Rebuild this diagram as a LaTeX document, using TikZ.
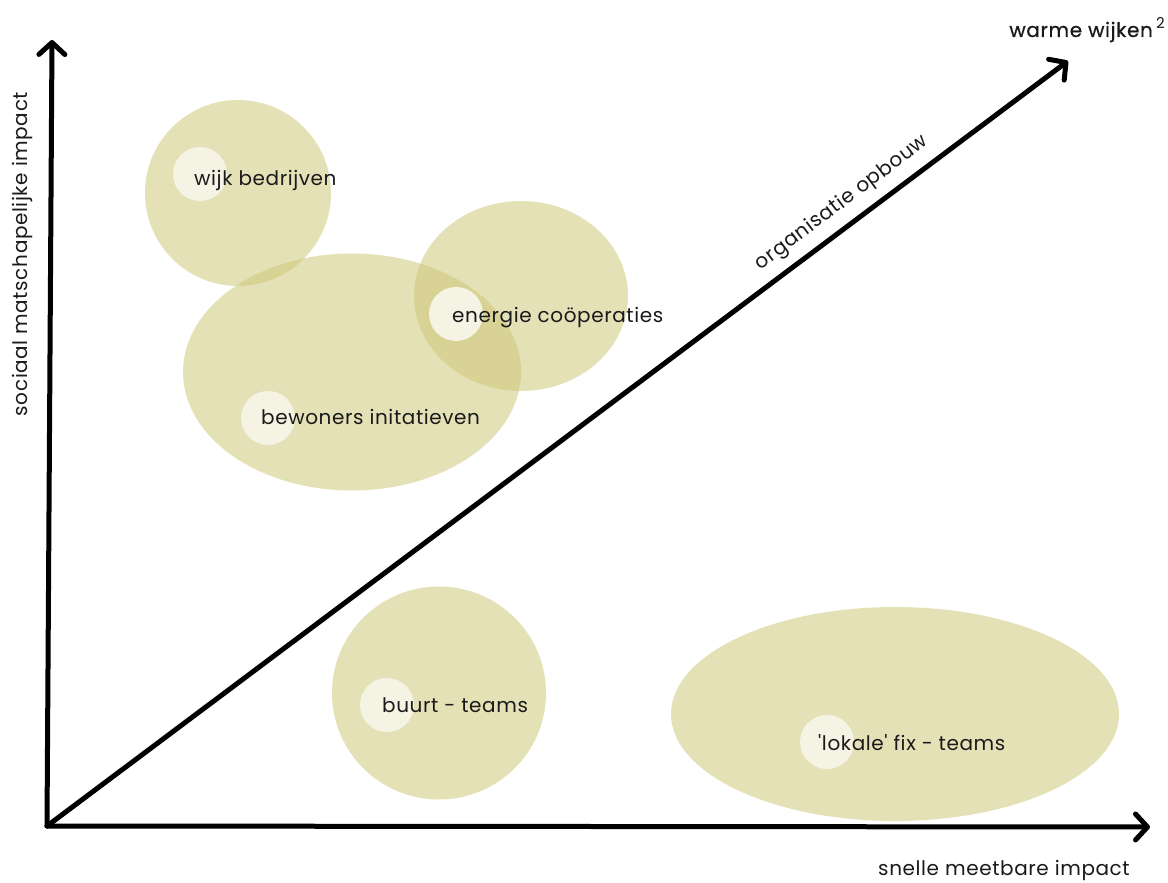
\documentclass[tikz,border=0pt]{standalone}
\usepackage{fontspec}
\setmainfont{Poppins}[Ligatures=TeXOff]
\usetikzlibrary{arrows.meta,shapes.geometric}
\definecolor{blob}{RGB}{205,199,118}
\definecolor{dot}{RGB}{245,243,228}
\definecolor{ink}{RGB}{26,26,26}
\newcommand{\lblfont}{\fontsize{20}{23}\selectfont\addfontfeatures{LetterSpace=3}}
\tikzset{
  blobshape/.style={ellipse, fill=blob, fill opacity=0.52, draw=none, inner sep=0pt},
  dotshape/.style={circle, fill=dot, draw=none, minimum size=54pt, inner sep=0pt},
  lbl/.style={anchor=base west, text=ink, font=\lblfont, inner sep=0pt},
  axis/.style={line width=5pt, line cap=round, -{Straight Barb[length=12pt,width=26pt,round]}},
  axlbl/.style={text=ink, font=\lblfont, inner sep=0pt}
}
\begin{document}
\begin{tikzpicture}[x=1pt,y=-1pt]
\useasboundingbox[fill=white] (0,0) rectangle (1168,883);
% blobs
\node[blobshape, minimum width=186pt, minimum height=186pt] (wb) at (238,193) {};
\node[blobshape, minimum width=338pt, minimum height=237pt] (bw) at (352,372) {};
\node[blobshape, minimum width=214pt, minimum height=190pt] (ec) at (521,296) {};
\node[blobshape, minimum width=214pt, minimum height=213pt] (bt) at (439,693) {};
\node[blobshape, minimum width=448pt, minimum height=214pt] (lf) at (895,714) {};
% dots
\node[dotshape] (wbd) at (200,174) {};
\node[dotshape] (ecd) at (456,314) {};
\node[dotshape] (bwd) at (268,418) {};
\node[dotshape] (btd) at (387,705) {};
\node[dotshape] (lfd) at (827,742) {};
% labels
\node[lbl] (wbl) at (194,185) {wijk bedrijven};
\node[lbl] (ecl) at (452,322) {energie coöperaties};
\node[lbl] (bwl) at (261,424) {bewoners initatieven};
\node[lbl] (btl) at (382,712) {buurt - teams};
\node[lbl] (lfl) at (818,750) {'lokale' fix - teams};
% axes
\coordinate (O) at (47,826);
\coordinate (Ytop) at (52,40);
\coordinate (Xend) at (1150,827);
\coordinate (Dend) at (1068,61);
\draw[axis] (O) -- (Ytop);
\draw[axis] (O) -- (Xend);
\draw[axis] (O) -- (Dend);
% axis labels
\node[axlbl, rotate=90] (yl) at (22,254) {sociaal matschapelijke impact};
\node[axlbl] (xl) at (1004,870) {snelle meetbare impact};
\node[axlbl, rotate=36.9] (dl) at (842,203) {organisatie opbouw};
\node[axlbl, anchor=base east, font=\lblfont\addfontfeatures{FakeBold=0.6}] (ww) at (1165,37) {warme wijken\,\raisebox{8pt}{\fontsize{15}{17}\selectfont\addfontfeatures{FakeBold=0}2}};
\end{tikzpicture}
\end{document}
